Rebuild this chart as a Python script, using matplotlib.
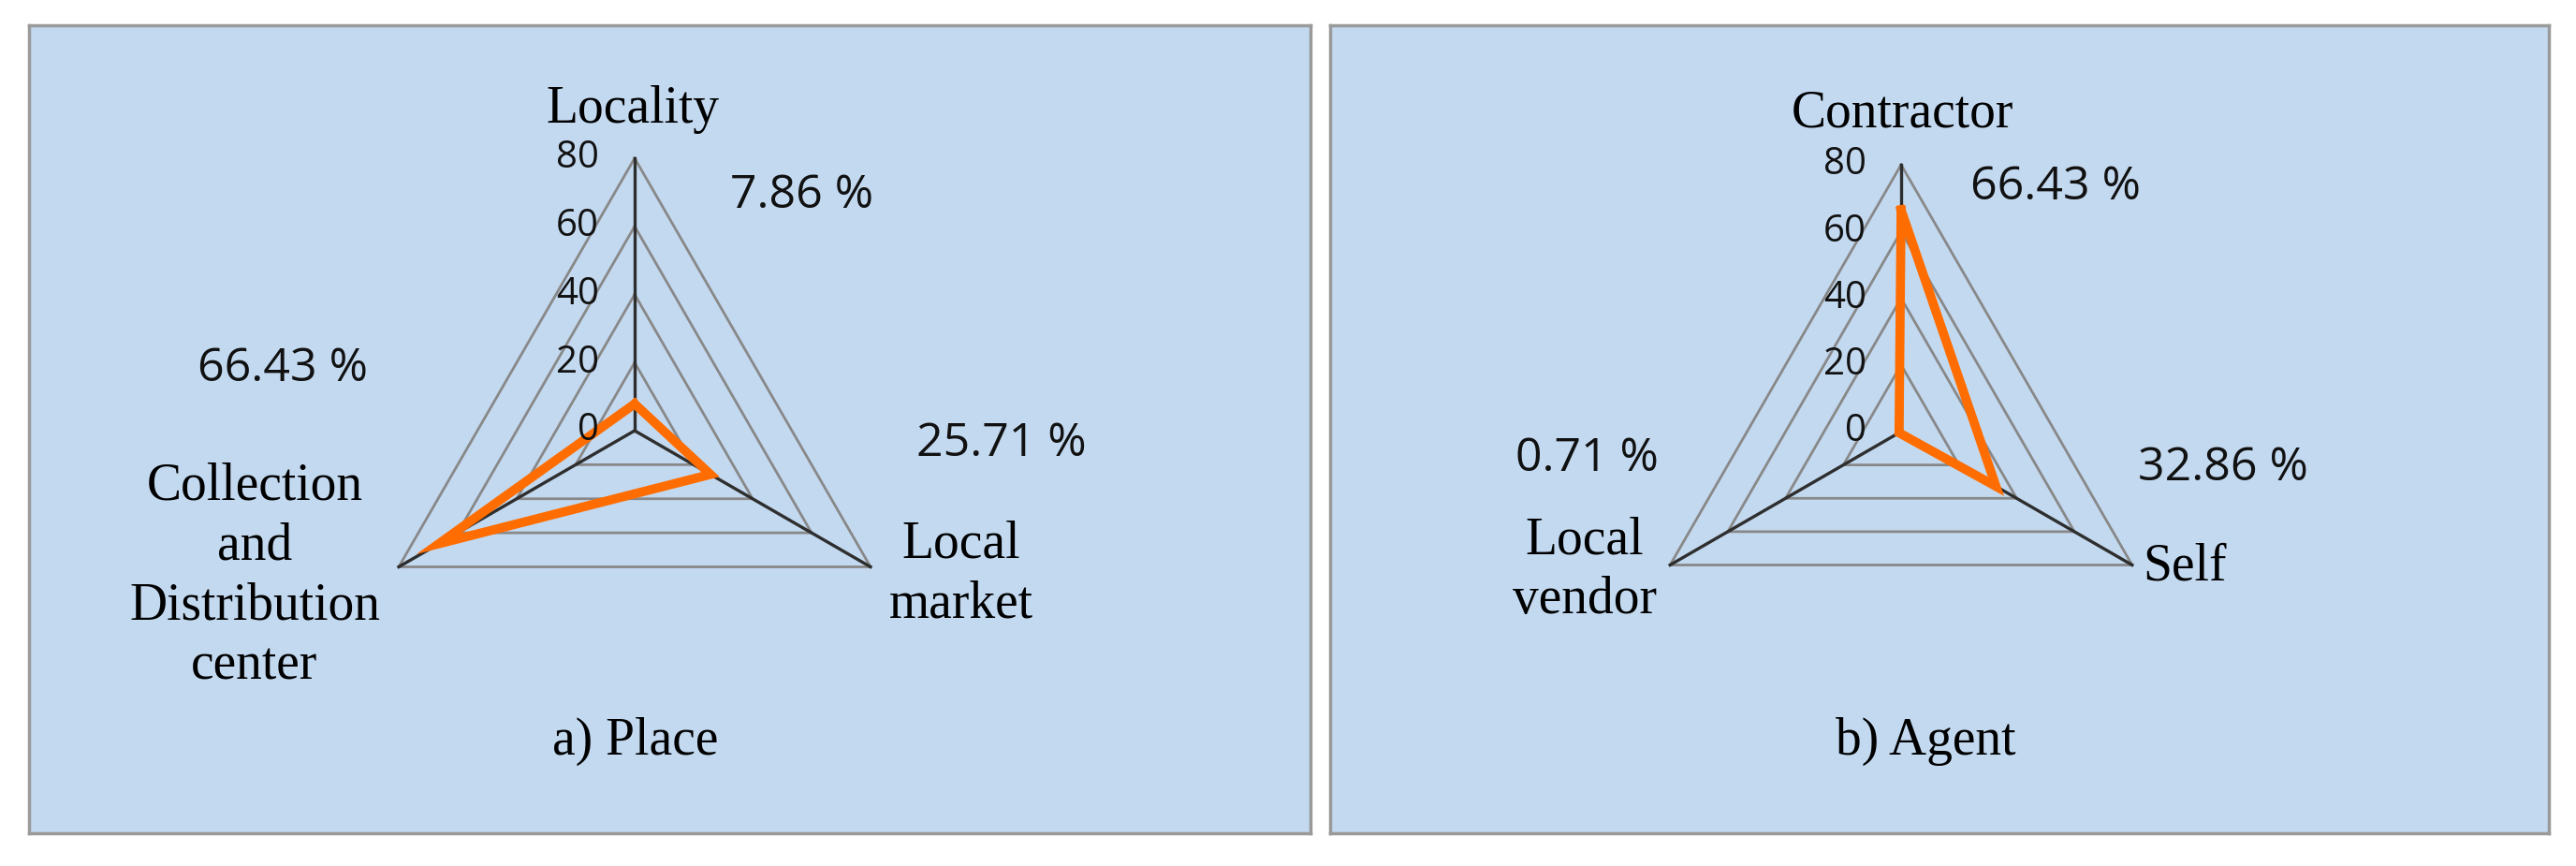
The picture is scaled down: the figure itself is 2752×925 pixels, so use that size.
import numpy as np
import matplotlib
matplotlib.use("Agg")
import matplotlib.pyplot as plt

# ---- data ----
place_cats = ["Locality", "Local\nmarket", "Collection\nand\nDistribution\ncenter"]
place_vals = [7.86, 25.71, 66.43]
agent_cats = ["Contractor", "Self", "Local\nvendor"]
agent_vals = [66.43, 32.86, 0.71]
ring_ticks = [0, 20, 40, 60, 80]
titles = ["a) Place", "b) Agent"]

W, H = 2752, 925
fig = plt.figure(figsize=(W / 100, H / 100), dpi=100)

SERIF = "Liberation Serif"
SANS = "Open Sans"
BG = "#c3d9f0"


def radar(box, center, k, cats, vals, title, cat_xy, pct_xy, title_xy):
    x0, y0, x1, y1 = box          # panel in pixels, y from top
    cx, cy = center               # radar centre in pixels
    ax = fig.add_axes([x0 / W, 1 - y1 / H, (x1 - x0) / W, (y1 - y0) / H])
    ax.set_xlim((x0 - cx) / k, (x1 - cx) / k)
    ax.set_ylim((cy - y1) / k, (cy - y0) / k)
    ax.set_facecolor(BG)
    for s in ax.spines.values():
        s.set_color("#9a9a9a")
        s.set_linewidth(2.5)
    ax.set_xticks([])
    ax.set_yticks([])

    def px(x, y):
        return (x - cx) / k, (cy - y) / k

    ang = np.deg2rad(90 - 120 * np.arange(len(vals)))
    ang_c = np.append(ang, ang[0])
    # grid rings
    for t in ring_ticks[1:]:
        ax.plot(t * np.cos(ang_c), t * np.sin(ang_c), color="#888888", lw=2.0, zorder=1)
    # spokes
    rmax = ring_ticks[-1]
    for a in ang:
        ax.plot([0, rmax * np.cos(a)], [0, rmax * np.sin(a)], color="#2e2e2e", lw=2.4, zorder=2)
    # series
    v = np.append(vals, vals[0])
    ax.plot(v * np.cos(ang_c), v * np.sin(ang_c), color="#ff6d00", lw=7,
            solid_joinstyle="miter", zorder=3)
    # ring tick labels
    for t in ring_ticks:
        ax.text(-10.5, t, str(t), ha="right", va="center", fontsize=29,
                family=SANS, color="#111111")
    # category labels and percentages
    for c, val, cp, pp in zip(cats, vals, cat_xy, pct_xy):
        ax.text(*px(*cp), c, ha="center", va="center", fontsize=40,
                family=SERIF, linespacing=1.3, color="#000000")
        ax.text(*px(*pp), f"{val:.2f} %", ha="center", va="center", fontsize=36,
                family=SANS, color="#111111")
    ax.text(*px(*title_xy), title, ha="center", va="center", fontsize=40,
            family=SERIF, color="#000000")


radar((31, 27, 1400, 890), (678, 460), 291 / 80, place_cats, place_vals, titles[0],
      [(676, 117), (1027, 613), (272, 615)],
      [(857, 209), (1070, 474), (302, 394)],
      (679, 792))

radar((1421, 27, 2723, 890), (2031, 461), 285 / 80, agent_cats, agent_vals, titles[1],
      [(2032, 121), (2334, 605), (1693, 609)],
      [(2196, 200), (2375, 500), (1695, 490)],
      (2057, 792))

fig.savefig("out.png", dpi=100, facecolor="white")
